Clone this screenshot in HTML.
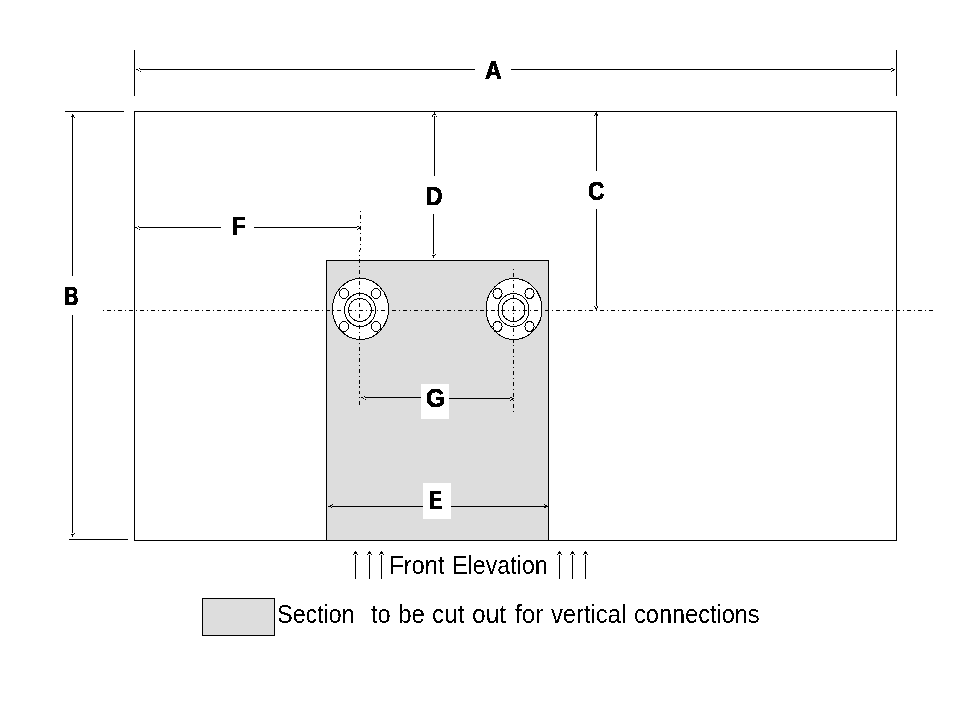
<!DOCTYPE html>
<html><head><meta charset="utf-8"><style>
html,body{margin:0;padding:0;background:#fff;width:960px;height:720px;overflow:hidden}
svg{display:block;will-change:transform}
</style></head><body>
<svg width="960" height="720" viewBox="0 0 960 720" shape-rendering="crispEdges">
<defs><filter id="bin" x="0" y="0" width="100%" height="100%" color-interpolation-filters="sRGB"><feComponentTransfer><feFuncA type="discrete" tableValues="0 1"/></feComponentTransfer></filter></defs>
<rect x="0" y="0" width="960" height="720" fill="#fff"/>
<rect x="326" y="260" width="223" height="281" fill="#000"/>
<rect x="327" y="261" width="221" height="279" fill="#dddddd"/>
<rect x="328" y="262" width="219" height="277" fill="#dddddd"/>
<rect x="134" y="111" width="763" height="1" fill="#000"/>
<rect x="134" y="540" width="763" height="1" fill="#000"/>
<rect x="134" y="111" width="1" height="430" fill="#000"/>
<rect x="896" y="111" width="1" height="430" fill="#000"/>
<rect x="134" y="50" width="1" height="46" fill="#000"/>
<rect x="896" y="50" width="1" height="46" fill="#000"/>
<rect x="140" y="69" width="335" height="1" fill="#000"/>
<rect x="511" y="69" width="380" height="1" fill="#000"/>
<rect x="136" y="69" width="1" height="1" fill="#000"/>
<rect x="137" y="69" width="1" height="1" fill="#000"/>
<rect x="138" y="70" width="1" height="1" fill="#000"/>
<rect x="139" y="68" width="1" height="1" fill="#000"/>
<rect x="140" y="71" width="1" height="1" fill="#000"/>
<rect x="894" y="69" width="1" height="1" fill="#000"/>
<rect x="893" y="69" width="1" height="1" fill="#000"/>
<rect x="893" y="70" width="1" height="1" fill="#000"/>
<rect x="892" y="70" width="1" height="1" fill="#000"/>
<rect x="892" y="68" width="1" height="1" fill="#000"/>
<rect x="891" y="68" width="1" height="1" fill="#000"/>
<rect x="891" y="71" width="1" height="1" fill="#000"/>
<rect x="65" y="111" width="59" height="1" fill="#000"/>
<rect x="69" y="539" width="59" height="1" fill="#000"/>
<rect x="72" y="117" width="1" height="159" fill="#000"/>
<rect x="72" y="315" width="1" height="218" fill="#000"/>
<rect x="72" y="114" width="1" height="1" fill="#000"/>
<rect x="72" y="115" width="1" height="1" fill="#000"/>
<rect x="73" y="115" width="1" height="1" fill="#000"/>
<rect x="71" y="116" width="1" height="1" fill="#000"/>
<rect x="72" y="116" width="1" height="1" fill="#000"/>
<rect x="73" y="116" width="1" height="1" fill="#000"/>
<rect x="74" y="117" width="1" height="1" fill="#000"/>
<rect x="72" y="536" width="1" height="1" fill="#000"/>
<rect x="72" y="535" width="1" height="1" fill="#000"/>
<rect x="71" y="534" width="1" height="1" fill="#000"/>
<rect x="72" y="534" width="1" height="1" fill="#000"/>
<rect x="73" y="534" width="1" height="1" fill="#000"/>
<rect x="74" y="533" width="1" height="1" fill="#000"/>
<rect x="596" y="116" width="1" height="55" fill="#000"/>
<rect x="596" y="209" width="1" height="97" fill="#000"/>
<rect x="596" y="113" width="1" height="1" fill="#000"/>
<rect x="595" y="113" width="1" height="1" fill="#000"/>
<rect x="595" y="114" width="1" height="1" fill="#000"/>
<rect x="596" y="114" width="1" height="1" fill="#000"/>
<rect x="597" y="114" width="1" height="1" fill="#000"/>
<rect x="597" y="115" width="1" height="1" fill="#000"/>
<rect x="596" y="115" width="1" height="1" fill="#000"/>
<rect x="594" y="115" width="1" height="1" fill="#000"/>
<rect x="596" y="112" width="1" height="1" fill="#000"/>
<rect x="596" y="310" width="1" height="1" fill="#000"/>
<rect x="596" y="309" width="1" height="1" fill="#000"/>
<rect x="595" y="308" width="1" height="1" fill="#000"/>
<rect x="596" y="308" width="1" height="1" fill="#000"/>
<rect x="595" y="307" width="1" height="1" fill="#000"/>
<rect x="597" y="307" width="1" height="1" fill="#000"/>
<rect x="597" y="306" width="1" height="1" fill="#000"/>
<rect x="594" y="306" width="1" height="1" fill="#000"/>
<rect x="434" y="116" width="1" height="60" fill="#000"/>
<rect x="433" y="214" width="1" height="40" fill="#000"/>
<rect x="434" y="113" width="1" height="1" fill="#000"/>
<rect x="433" y="114" width="1" height="1" fill="#000"/>
<rect x="434" y="114" width="1" height="1" fill="#000"/>
<rect x="435" y="114" width="1" height="1" fill="#000"/>
<rect x="432" y="115" width="1" height="1" fill="#000"/>
<rect x="432" y="116" width="1" height="1" fill="#000"/>
<rect x="436" y="116" width="1" height="1" fill="#000"/>
<rect x="434" y="112" width="1" height="1" fill="#000"/>
<rect x="433" y="257" width="1" height="1" fill="#000"/>
<rect x="433" y="256" width="1" height="1" fill="#000"/>
<rect x="432" y="255" width="1" height="1" fill="#000"/>
<rect x="433" y="255" width="1" height="1" fill="#000"/>
<rect x="434" y="255" width="1" height="1" fill="#000"/>
<rect x="435" y="254" width="1" height="1" fill="#000"/>
<rect x="139" y="227" width="82" height="1" fill="#000"/>
<rect x="254" y="227" width="103" height="1" fill="#000"/>
<rect x="135" y="227" width="1" height="1" fill="#000"/>
<rect x="136" y="227" width="1" height="1" fill="#000"/>
<rect x="137" y="228" width="1" height="1" fill="#000"/>
<rect x="138" y="226" width="1" height="1" fill="#000"/>
<rect x="139" y="229" width="1" height="1" fill="#000"/>
<rect x="360" y="227" width="1" height="1" fill="#000"/>
<rect x="359" y="227" width="1" height="1" fill="#000"/>
<rect x="359" y="228" width="1" height="1" fill="#000"/>
<rect x="358" y="228" width="1" height="1" fill="#000"/>
<rect x="358" y="226" width="1" height="1" fill="#000"/>
<rect x="357" y="226" width="1" height="1" fill="#000"/>
<rect x="357" y="229" width="1" height="1" fill="#000"/>
<g>
<ellipse cx="360.5" cy="309" rx="28" ry="30.5" fill="#fff" stroke="#000" stroke-width="1"/>
<ellipse cx="360.0" cy="310" rx="15.5" ry="16.5" fill="none" stroke="#000" stroke-width="1"/>
<ellipse cx="360.0" cy="310" rx="11.5" ry="11.5" fill="none" stroke="#000" stroke-width="1"/>
<ellipse cx="344.0" cy="293.5" rx="4.6" ry="5" fill="none" stroke="#000" stroke-width="1"/>
<ellipse cx="376.0" cy="293.5" rx="4.6" ry="5" fill="none" stroke="#000" stroke-width="1"/>
<ellipse cx="344.0" cy="326.5" rx="4.6" ry="5" fill="none" stroke="#000" stroke-width="1"/>
<ellipse cx="376.0" cy="326.5" rx="4.6" ry="5" fill="none" stroke="#000" stroke-width="1"/>
<ellipse cx="514" cy="309" rx="28" ry="30.5" fill="#fff" stroke="#000" stroke-width="1"/>
<ellipse cx="513.5" cy="310" rx="15.5" ry="16.5" fill="none" stroke="#000" stroke-width="1"/>
<ellipse cx="513.5" cy="310" rx="11.5" ry="11.5" fill="none" stroke="#000" stroke-width="1"/>
<ellipse cx="497.5" cy="293.5" rx="4.6" ry="5" fill="none" stroke="#000" stroke-width="1"/>
<ellipse cx="529.5" cy="293.5" rx="4.6" ry="5" fill="none" stroke="#000" stroke-width="1"/>
<ellipse cx="497.5" cy="326.5" rx="4.6" ry="5" fill="none" stroke="#000" stroke-width="1"/>
<ellipse cx="529.5" cy="326.5" rx="4.6" ry="5" fill="none" stroke="#000" stroke-width="1"/>
</g>
<rect x="103" y="310" width="1" height="1" fill="#000"/>
<rect x="107" y="310" width="4" height="1" fill="#000"/>
<rect x="114" y="310" width="1" height="1" fill="#000"/>
<rect x="118" y="310" width="4" height="1" fill="#000"/>
<rect x="125" y="310" width="1" height="1" fill="#000"/>
<rect x="129" y="310" width="4" height="1" fill="#000"/>
<rect x="136" y="310" width="1" height="1" fill="#000"/>
<rect x="140" y="310" width="4" height="1" fill="#000"/>
<rect x="147" y="310" width="1" height="1" fill="#000"/>
<rect x="151" y="310" width="4" height="1" fill="#000"/>
<rect x="158" y="310" width="1" height="1" fill="#000"/>
<rect x="162" y="310" width="4" height="1" fill="#000"/>
<rect x="169" y="310" width="1" height="1" fill="#000"/>
<rect x="173" y="310" width="4" height="1" fill="#000"/>
<rect x="180" y="310" width="1" height="1" fill="#000"/>
<rect x="184" y="310" width="4" height="1" fill="#000"/>
<rect x="191" y="310" width="1" height="1" fill="#000"/>
<rect x="195" y="310" width="4" height="1" fill="#000"/>
<rect x="202" y="310" width="1" height="1" fill="#000"/>
<rect x="206" y="310" width="4" height="1" fill="#000"/>
<rect x="213" y="310" width="1" height="1" fill="#000"/>
<rect x="217" y="310" width="4" height="1" fill="#000"/>
<rect x="224" y="310" width="1" height="1" fill="#000"/>
<rect x="228" y="310" width="4" height="1" fill="#000"/>
<rect x="234" y="310" width="1" height="1" fill="#000"/>
<rect x="238" y="310" width="4" height="1" fill="#000"/>
<rect x="245" y="310" width="1" height="1" fill="#000"/>
<rect x="249" y="310" width="4" height="1" fill="#000"/>
<rect x="256" y="310" width="1" height="1" fill="#000"/>
<rect x="260" y="310" width="4" height="1" fill="#000"/>
<rect x="267" y="310" width="1" height="1" fill="#000"/>
<rect x="271" y="310" width="4" height="1" fill="#000"/>
<rect x="278" y="310" width="1" height="1" fill="#000"/>
<rect x="282" y="310" width="4" height="1" fill="#000"/>
<rect x="289" y="310" width="1" height="1" fill="#000"/>
<rect x="293" y="310" width="4" height="1" fill="#000"/>
<rect x="300" y="310" width="1" height="1" fill="#000"/>
<rect x="304" y="310" width="4" height="1" fill="#000"/>
<rect x="311" y="310" width="1" height="1" fill="#000"/>
<rect x="315" y="310" width="4" height="1" fill="#000"/>
<rect x="322" y="310" width="1" height="1" fill="#000"/>
<rect x="326" y="310" width="4" height="1" fill="#000"/>
<rect x="333" y="310" width="1" height="1" fill="#000"/>
<rect x="337" y="310" width="4" height="1" fill="#000"/>
<rect x="344" y="310" width="1" height="1" fill="#000"/>
<rect x="348" y="310" width="4" height="1" fill="#000"/>
<rect x="355" y="310" width="1" height="1" fill="#000"/>
<rect x="359" y="310" width="4" height="1" fill="#000"/>
<rect x="366" y="310" width="1" height="1" fill="#000"/>
<rect x="370" y="310" width="4" height="1" fill="#000"/>
<rect x="377" y="310" width="1" height="1" fill="#000"/>
<rect x="381" y="310" width="4" height="1" fill="#000"/>
<rect x="388" y="310" width="1" height="1" fill="#000"/>
<rect x="392" y="310" width="4" height="1" fill="#000"/>
<rect x="399" y="310" width="1" height="1" fill="#000"/>
<rect x="403" y="310" width="4" height="1" fill="#000"/>
<rect x="410" y="310" width="1" height="1" fill="#000"/>
<rect x="414" y="310" width="4" height="1" fill="#000"/>
<rect x="421" y="310" width="1" height="1" fill="#000"/>
<rect x="425" y="310" width="4" height="1" fill="#000"/>
<rect x="432" y="310" width="1" height="1" fill="#000"/>
<rect x="436" y="310" width="4" height="1" fill="#000"/>
<rect x="443" y="310" width="1" height="1" fill="#000"/>
<rect x="447" y="310" width="4" height="1" fill="#000"/>
<rect x="454" y="310" width="1" height="1" fill="#000"/>
<rect x="458" y="310" width="4" height="1" fill="#000"/>
<rect x="465" y="310" width="1" height="1" fill="#000"/>
<rect x="469" y="310" width="4" height="1" fill="#000"/>
<rect x="476" y="310" width="1" height="1" fill="#000"/>
<rect x="480" y="310" width="4" height="1" fill="#000"/>
<rect x="487" y="310" width="1" height="1" fill="#000"/>
<rect x="491" y="310" width="4" height="1" fill="#000"/>
<rect x="497" y="310" width="1" height="1" fill="#000"/>
<rect x="501" y="310" width="4" height="1" fill="#000"/>
<rect x="508" y="310" width="1" height="1" fill="#000"/>
<rect x="512" y="310" width="4" height="1" fill="#000"/>
<rect x="519" y="310" width="1" height="1" fill="#000"/>
<rect x="523" y="310" width="4" height="1" fill="#000"/>
<rect x="530" y="310" width="1" height="1" fill="#000"/>
<rect x="534" y="310" width="4" height="1" fill="#000"/>
<rect x="541" y="310" width="1" height="1" fill="#000"/>
<rect x="545" y="310" width="4" height="1" fill="#000"/>
<rect x="552" y="310" width="1" height="1" fill="#000"/>
<rect x="556" y="310" width="4" height="1" fill="#000"/>
<rect x="563" y="310" width="1" height="1" fill="#000"/>
<rect x="567" y="310" width="4" height="1" fill="#000"/>
<rect x="574" y="310" width="1" height="1" fill="#000"/>
<rect x="578" y="310" width="4" height="1" fill="#000"/>
<rect x="585" y="310" width="1" height="1" fill="#000"/>
<rect x="589" y="310" width="4" height="1" fill="#000"/>
<rect x="596" y="310" width="1" height="1" fill="#000"/>
<rect x="600" y="310" width="4" height="1" fill="#000"/>
<rect x="607" y="310" width="1" height="1" fill="#000"/>
<rect x="611" y="310" width="4" height="1" fill="#000"/>
<rect x="618" y="310" width="1" height="1" fill="#000"/>
<rect x="622" y="310" width="4" height="1" fill="#000"/>
<rect x="629" y="310" width="1" height="1" fill="#000"/>
<rect x="633" y="310" width="4" height="1" fill="#000"/>
<rect x="640" y="310" width="1" height="1" fill="#000"/>
<rect x="644" y="310" width="4" height="1" fill="#000"/>
<rect x="651" y="310" width="1" height="1" fill="#000"/>
<rect x="655" y="310" width="4" height="1" fill="#000"/>
<rect x="662" y="310" width="1" height="1" fill="#000"/>
<rect x="666" y="310" width="4" height="1" fill="#000"/>
<rect x="673" y="310" width="1" height="1" fill="#000"/>
<rect x="677" y="310" width="4" height="1" fill="#000"/>
<rect x="684" y="310" width="1" height="1" fill="#000"/>
<rect x="688" y="310" width="4" height="1" fill="#000"/>
<rect x="695" y="310" width="1" height="1" fill="#000"/>
<rect x="699" y="310" width="4" height="1" fill="#000"/>
<rect x="706" y="310" width="1" height="1" fill="#000"/>
<rect x="710" y="310" width="4" height="1" fill="#000"/>
<rect x="717" y="310" width="1" height="1" fill="#000"/>
<rect x="721" y="310" width="4" height="1" fill="#000"/>
<rect x="728" y="310" width="1" height="1" fill="#000"/>
<rect x="732" y="310" width="4" height="1" fill="#000"/>
<rect x="739" y="310" width="1" height="1" fill="#000"/>
<rect x="743" y="310" width="4" height="1" fill="#000"/>
<rect x="750" y="310" width="1" height="1" fill="#000"/>
<rect x="754" y="310" width="4" height="1" fill="#000"/>
<rect x="760" y="310" width="1" height="1" fill="#000"/>
<rect x="764" y="310" width="4" height="1" fill="#000"/>
<rect x="771" y="310" width="1" height="1" fill="#000"/>
<rect x="775" y="310" width="4" height="1" fill="#000"/>
<rect x="782" y="310" width="1" height="1" fill="#000"/>
<rect x="786" y="310" width="4" height="1" fill="#000"/>
<rect x="793" y="310" width="1" height="1" fill="#000"/>
<rect x="797" y="310" width="4" height="1" fill="#000"/>
<rect x="804" y="310" width="1" height="1" fill="#000"/>
<rect x="808" y="310" width="4" height="1" fill="#000"/>
<rect x="815" y="310" width="1" height="1" fill="#000"/>
<rect x="819" y="310" width="4" height="1" fill="#000"/>
<rect x="826" y="310" width="1" height="1" fill="#000"/>
<rect x="830" y="310" width="4" height="1" fill="#000"/>
<rect x="837" y="310" width="1" height="1" fill="#000"/>
<rect x="841" y="310" width="4" height="1" fill="#000"/>
<rect x="848" y="310" width="1" height="1" fill="#000"/>
<rect x="852" y="310" width="4" height="1" fill="#000"/>
<rect x="859" y="310" width="1" height="1" fill="#000"/>
<rect x="863" y="310" width="4" height="1" fill="#000"/>
<rect x="870" y="310" width="1" height="1" fill="#000"/>
<rect x="874" y="310" width="4" height="1" fill="#000"/>
<rect x="881" y="310" width="1" height="1" fill="#000"/>
<rect x="885" y="310" width="4" height="1" fill="#000"/>
<rect x="892" y="310" width="1" height="1" fill="#000"/>
<rect x="896" y="310" width="4" height="1" fill="#000"/>
<rect x="903" y="310" width="1" height="1" fill="#000"/>
<rect x="907" y="310" width="4" height="1" fill="#000"/>
<rect x="914" y="310" width="1" height="1" fill="#000"/>
<rect x="918" y="310" width="4" height="1" fill="#000"/>
<rect x="925" y="310" width="1" height="1" fill="#000"/>
<rect x="929" y="310" width="4" height="1" fill="#000"/>
<rect x="360" y="211" width="1" height="1" fill="#000"/>
<rect x="360" y="215" width="1" height="1" fill="#000"/>
<rect x="360" y="216" width="1" height="1" fill="#000"/>
<rect x="360" y="217" width="1" height="1" fill="#000"/>
<rect x="360" y="218" width="1" height="1" fill="#000"/>
<rect x="360" y="222" width="1" height="1" fill="#000"/>
<rect x="360" y="226" width="1" height="1" fill="#000"/>
<rect x="360" y="227" width="1" height="1" fill="#000"/>
<rect x="360" y="228" width="1" height="1" fill="#000"/>
<rect x="360" y="229" width="1" height="1" fill="#000"/>
<rect x="360" y="233" width="1" height="1" fill="#000"/>
<rect x="360" y="237" width="1" height="1" fill="#000"/>
<rect x="360" y="238" width="1" height="1" fill="#000"/>
<rect x="360" y="239" width="1" height="1" fill="#000"/>
<rect x="360" y="240" width="1" height="1" fill="#000"/>
<rect x="360" y="244" width="1" height="1" fill="#000"/>
<rect x="360" y="248" width="1" height="1" fill="#000"/>
<rect x="360" y="249" width="1" height="1" fill="#000"/>
<rect x="359" y="250" width="1" height="1" fill="#000"/>
<rect x="359" y="251" width="1" height="1" fill="#000"/>
<rect x="359" y="255" width="1" height="1" fill="#000"/>
<rect x="359" y="259" width="1" height="1" fill="#000"/>
<rect x="359" y="260" width="1" height="1" fill="#000"/>
<rect x="359" y="261" width="1" height="1" fill="#000"/>
<rect x="359" y="262" width="1" height="1" fill="#000"/>
<rect x="359" y="266" width="1" height="1" fill="#000"/>
<rect x="359" y="270" width="1" height="1" fill="#000"/>
<rect x="359" y="271" width="1" height="1" fill="#000"/>
<rect x="359" y="272" width="1" height="1" fill="#000"/>
<rect x="359" y="273" width="1" height="1" fill="#000"/>
<rect x="359" y="277" width="1" height="1" fill="#000"/>
<rect x="359" y="281" width="1" height="1" fill="#000"/>
<rect x="359" y="282" width="1" height="1" fill="#000"/>
<rect x="359" y="283" width="1" height="1" fill="#000"/>
<rect x="359" y="284" width="1" height="1" fill="#000"/>
<rect x="359" y="288" width="1" height="1" fill="#000"/>
<rect x="359" y="292" width="1" height="1" fill="#000"/>
<rect x="359" y="293" width="1" height="1" fill="#000"/>
<rect x="359" y="294" width="1" height="1" fill="#000"/>
<rect x="359" y="295" width="1" height="1" fill="#000"/>
<rect x="359" y="299" width="1" height="1" fill="#000"/>
<rect x="359" y="303" width="1" height="1" fill="#000"/>
<rect x="359" y="304" width="1" height="1" fill="#000"/>
<rect x="359" y="305" width="1" height="1" fill="#000"/>
<rect x="359" y="306" width="1" height="1" fill="#000"/>
<rect x="359" y="310" width="1" height="1" fill="#000"/>
<rect x="359" y="314" width="1" height="1" fill="#000"/>
<rect x="359" y="315" width="1" height="1" fill="#000"/>
<rect x="359" y="316" width="1" height="1" fill="#000"/>
<rect x="359" y="317" width="1" height="1" fill="#000"/>
<rect x="359" y="321" width="1" height="1" fill="#000"/>
<rect x="359" y="325" width="1" height="1" fill="#000"/>
<rect x="359" y="326" width="1" height="1" fill="#000"/>
<rect x="359" y="327" width="1" height="1" fill="#000"/>
<rect x="359" y="328" width="1" height="1" fill="#000"/>
<rect x="359" y="332" width="1" height="1" fill="#000"/>
<rect x="359" y="336" width="1" height="1" fill="#000"/>
<rect x="359" y="337" width="1" height="1" fill="#000"/>
<rect x="359" y="338" width="1" height="1" fill="#000"/>
<rect x="359" y="339" width="1" height="1" fill="#000"/>
<rect x="359" y="343" width="1" height="1" fill="#000"/>
<rect x="359" y="347" width="1" height="1" fill="#000"/>
<rect x="359" y="348" width="1" height="1" fill="#000"/>
<rect x="359" y="349" width="1" height="1" fill="#000"/>
<rect x="359" y="350" width="1" height="1" fill="#000"/>
<rect x="359" y="354" width="1" height="1" fill="#000"/>
<rect x="359" y="358" width="1" height="1" fill="#000"/>
<rect x="359" y="359" width="1" height="1" fill="#000"/>
<rect x="359" y="360" width="1" height="1" fill="#000"/>
<rect x="359" y="361" width="1" height="1" fill="#000"/>
<rect x="359" y="365" width="1" height="1" fill="#000"/>
<rect x="359" y="369" width="1" height="1" fill="#000"/>
<rect x="359" y="370" width="1" height="1" fill="#000"/>
<rect x="359" y="371" width="1" height="1" fill="#000"/>
<rect x="359" y="372" width="1" height="1" fill="#000"/>
<rect x="359" y="376" width="1" height="1" fill="#000"/>
<rect x="359" y="380" width="1" height="1" fill="#000"/>
<rect x="359" y="381" width="1" height="1" fill="#000"/>
<rect x="359" y="382" width="1" height="1" fill="#000"/>
<rect x="359" y="383" width="1" height="1" fill="#000"/>
<rect x="359" y="386" width="1" height="1" fill="#000"/>
<rect x="359" y="387" width="1" height="1" fill="#000"/>
<rect x="359" y="391" width="1" height="1" fill="#000"/>
<rect x="359" y="392" width="1" height="1" fill="#000"/>
<rect x="359" y="393" width="1" height="1" fill="#000"/>
<rect x="359" y="397" width="1" height="1" fill="#000"/>
<rect x="359" y="401" width="1" height="1" fill="#000"/>
<rect x="359" y="402" width="1" height="1" fill="#000"/>
<rect x="359" y="403" width="1" height="1" fill="#000"/>
<rect x="359" y="404" width="1" height="1" fill="#000"/>
<rect x="513" y="269" width="1" height="1" fill="#000"/>
<rect x="513" y="273" width="1" height="1" fill="#000"/>
<rect x="513" y="274" width="1" height="1" fill="#000"/>
<rect x="513" y="275" width="1" height="1" fill="#000"/>
<rect x="513" y="276" width="1" height="1" fill="#000"/>
<rect x="513" y="280" width="1" height="1" fill="#000"/>
<rect x="513" y="284" width="1" height="1" fill="#000"/>
<rect x="513" y="285" width="1" height="1" fill="#000"/>
<rect x="513" y="286" width="1" height="1" fill="#000"/>
<rect x="513" y="287" width="1" height="1" fill="#000"/>
<rect x="513" y="291" width="1" height="1" fill="#000"/>
<rect x="513" y="295" width="1" height="1" fill="#000"/>
<rect x="513" y="296" width="1" height="1" fill="#000"/>
<rect x="513" y="297" width="1" height="1" fill="#000"/>
<rect x="513" y="298" width="1" height="1" fill="#000"/>
<rect x="513" y="302" width="1" height="1" fill="#000"/>
<rect x="513" y="306" width="1" height="1" fill="#000"/>
<rect x="513" y="307" width="1" height="1" fill="#000"/>
<rect x="513" y="308" width="1" height="1" fill="#000"/>
<rect x="513" y="309" width="1" height="1" fill="#000"/>
<rect x="513" y="313" width="1" height="1" fill="#000"/>
<rect x="513" y="317" width="1" height="1" fill="#000"/>
<rect x="513" y="318" width="1" height="1" fill="#000"/>
<rect x="513" y="319" width="1" height="1" fill="#000"/>
<rect x="513" y="320" width="1" height="1" fill="#000"/>
<rect x="513" y="324" width="1" height="1" fill="#000"/>
<rect x="513" y="328" width="1" height="1" fill="#000"/>
<rect x="513" y="329" width="1" height="1" fill="#000"/>
<rect x="513" y="330" width="1" height="1" fill="#000"/>
<rect x="513" y="331" width="1" height="1" fill="#000"/>
<rect x="513" y="335" width="1" height="1" fill="#000"/>
<rect x="513" y="339" width="1" height="1" fill="#000"/>
<rect x="513" y="340" width="1" height="1" fill="#000"/>
<rect x="513" y="341" width="1" height="1" fill="#000"/>
<rect x="513" y="342" width="1" height="1" fill="#000"/>
<rect x="513" y="345" width="1" height="1" fill="#000"/>
<rect x="513" y="349" width="1" height="1" fill="#000"/>
<rect x="513" y="350" width="1" height="1" fill="#000"/>
<rect x="513" y="351" width="1" height="1" fill="#000"/>
<rect x="513" y="352" width="1" height="1" fill="#000"/>
<rect x="513" y="356" width="1" height="1" fill="#000"/>
<rect x="513" y="360" width="1" height="1" fill="#000"/>
<rect x="513" y="361" width="1" height="1" fill="#000"/>
<rect x="513" y="362" width="1" height="1" fill="#000"/>
<rect x="513" y="363" width="1" height="1" fill="#000"/>
<rect x="513" y="367" width="1" height="1" fill="#000"/>
<rect x="513" y="371" width="1" height="1" fill="#000"/>
<rect x="513" y="372" width="1" height="1" fill="#000"/>
<rect x="513" y="373" width="1" height="1" fill="#000"/>
<rect x="513" y="374" width="1" height="1" fill="#000"/>
<rect x="513" y="378" width="1" height="1" fill="#000"/>
<rect x="513" y="382" width="1" height="1" fill="#000"/>
<rect x="513" y="383" width="1" height="1" fill="#000"/>
<rect x="513" y="384" width="1" height="1" fill="#000"/>
<rect x="513" y="385" width="1" height="1" fill="#000"/>
<rect x="513" y="389" width="1" height="1" fill="#000"/>
<rect x="513" y="393" width="1" height="1" fill="#000"/>
<rect x="513" y="394" width="1" height="1" fill="#000"/>
<rect x="513" y="395" width="1" height="1" fill="#000"/>
<rect x="513" y="396" width="1" height="1" fill="#000"/>
<rect x="513" y="400" width="1" height="1" fill="#000"/>
<rect x="513" y="404" width="1" height="1" fill="#000"/>
<rect x="513" y="405" width="1" height="1" fill="#000"/>
<rect x="513" y="406" width="1" height="1" fill="#000"/>
<rect x="513" y="407" width="1" height="1" fill="#000"/>
<rect x="513" y="411" width="1" height="1" fill="#000"/>
<rect x="365" y="397" width="56" height="1" fill="#000"/>
<rect x="449" y="398" width="61" height="1" fill="#000"/>
<rect x="361" y="397" width="1" height="1" fill="#000"/>
<rect x="362" y="397" width="1" height="1" fill="#000"/>
<rect x="363" y="398" width="1" height="1" fill="#000"/>
<rect x="364" y="396" width="1" height="1" fill="#000"/>
<rect x="365" y="399" width="1" height="1" fill="#000"/>
<rect x="513" y="398" width="1" height="1" fill="#000"/>
<rect x="512" y="398" width="1" height="1" fill="#000"/>
<rect x="512" y="399" width="1" height="1" fill="#000"/>
<rect x="511" y="399" width="1" height="1" fill="#000"/>
<rect x="511" y="397" width="1" height="1" fill="#000"/>
<rect x="510" y="397" width="1" height="1" fill="#000"/>
<rect x="510" y="400" width="1" height="1" fill="#000"/>
<rect x="421" y="384" width="28" height="35" fill="#fff"/>
<rect x="332" y="506" width="91" height="1" fill="#000"/>
<rect x="451" y="506" width="93" height="1" fill="#000"/>
<rect x="328" y="506" width="1" height="1" fill="#000"/>
<rect x="329" y="506" width="1" height="1" fill="#000"/>
<rect x="330" y="506" width="1" height="1" fill="#000"/>
<rect x="330" y="505" width="1" height="1" fill="#000"/>
<rect x="331" y="505" width="1" height="1" fill="#000"/>
<rect x="332" y="504" width="1" height="1" fill="#000"/>
<rect x="331" y="507" width="1" height="1" fill="#000"/>
<rect x="547" y="506" width="1" height="1" fill="#000"/>
<rect x="546" y="506" width="1" height="1" fill="#000"/>
<rect x="546" y="505" width="1" height="1" fill="#000"/>
<rect x="545" y="505" width="1" height="1" fill="#000"/>
<rect x="544" y="504" width="1" height="1" fill="#000"/>
<rect x="545" y="506" width="1" height="1" fill="#000"/>
<rect x="544" y="506" width="1" height="1" fill="#000"/>
<rect x="544" y="507" width="1" height="1" fill="#000"/>
<rect x="545" y="507" width="1" height="1" fill="#000"/>
<rect x="423" y="483" width="28" height="36" fill="#fff"/>
<rect x="355" y="555" width="1" height="24" fill="#000"/>
<rect x="355" y="551" width="1" height="1" fill="#000"/>
<rect x="354" y="552" width="1" height="1" fill="#000"/>
<rect x="355" y="552" width="1" height="1" fill="#000"/>
<rect x="356" y="552" width="1" height="1" fill="#000"/>
<rect x="354" y="553" width="1" height="1" fill="#000"/>
<rect x="355" y="553" width="1" height="1" fill="#000"/>
<rect x="356" y="553" width="1" height="1" fill="#000"/>
<rect x="353" y="554" width="1" height="1" fill="#000"/>
<rect x="357" y="554" width="1" height="1" fill="#000"/>
<rect x="369" y="555" width="1" height="24" fill="#000"/>
<rect x="369" y="551" width="1" height="1" fill="#000"/>
<rect x="368" y="552" width="1" height="1" fill="#000"/>
<rect x="369" y="552" width="1" height="1" fill="#000"/>
<rect x="370" y="552" width="1" height="1" fill="#000"/>
<rect x="368" y="553" width="1" height="1" fill="#000"/>
<rect x="369" y="553" width="1" height="1" fill="#000"/>
<rect x="370" y="553" width="1" height="1" fill="#000"/>
<rect x="367" y="554" width="1" height="1" fill="#000"/>
<rect x="371" y="554" width="1" height="1" fill="#000"/>
<rect x="381" y="555" width="1" height="24" fill="#000"/>
<rect x="381" y="551" width="1" height="1" fill="#000"/>
<rect x="380" y="552" width="1" height="1" fill="#000"/>
<rect x="381" y="552" width="1" height="1" fill="#000"/>
<rect x="382" y="552" width="1" height="1" fill="#000"/>
<rect x="380" y="553" width="1" height="1" fill="#000"/>
<rect x="381" y="553" width="1" height="1" fill="#000"/>
<rect x="382" y="553" width="1" height="1" fill="#000"/>
<rect x="379" y="554" width="1" height="1" fill="#000"/>
<rect x="383" y="554" width="1" height="1" fill="#000"/>
<rect x="559" y="555" width="1" height="24" fill="#000"/>
<rect x="559" y="551" width="1" height="1" fill="#000"/>
<rect x="558" y="552" width="1" height="1" fill="#000"/>
<rect x="559" y="552" width="1" height="1" fill="#000"/>
<rect x="560" y="552" width="1" height="1" fill="#000"/>
<rect x="558" y="553" width="1" height="1" fill="#000"/>
<rect x="559" y="553" width="1" height="1" fill="#000"/>
<rect x="560" y="553" width="1" height="1" fill="#000"/>
<rect x="557" y="554" width="1" height="1" fill="#000"/>
<rect x="561" y="554" width="1" height="1" fill="#000"/>
<rect x="572" y="555" width="1" height="24" fill="#000"/>
<rect x="572" y="551" width="1" height="1" fill="#000"/>
<rect x="571" y="552" width="1" height="1" fill="#000"/>
<rect x="572" y="552" width="1" height="1" fill="#000"/>
<rect x="573" y="552" width="1" height="1" fill="#000"/>
<rect x="571" y="553" width="1" height="1" fill="#000"/>
<rect x="572" y="553" width="1" height="1" fill="#000"/>
<rect x="573" y="553" width="1" height="1" fill="#000"/>
<rect x="570" y="554" width="1" height="1" fill="#000"/>
<rect x="574" y="554" width="1" height="1" fill="#000"/>
<rect x="585" y="555" width="1" height="24" fill="#000"/>
<rect x="585" y="551" width="1" height="1" fill="#000"/>
<rect x="584" y="552" width="1" height="1" fill="#000"/>
<rect x="585" y="552" width="1" height="1" fill="#000"/>
<rect x="586" y="552" width="1" height="1" fill="#000"/>
<rect x="584" y="553" width="1" height="1" fill="#000"/>
<rect x="585" y="553" width="1" height="1" fill="#000"/>
<rect x="586" y="553" width="1" height="1" fill="#000"/>
<rect x="583" y="554" width="1" height="1" fill="#000"/>
<rect x="587" y="554" width="1" height="1" fill="#000"/>
<rect x="202" y="598" width="73" height="38" fill="#000"/>
<rect x="203" y="599" width="71" height="36" fill="#dddddd"/>
<rect x="204" y="600" width="69" height="34" fill="#dddddd"/>
<g filter="url(#bin)">
<text transform="translate(485.00,79) scale(0.8889,1)" style='font-family:"Liberation Sans",sans-serif;font-weight:bold;font-size:26px;stroke:#000;stroke-width:0.7px'>A</text>
<text transform="translate(64.24,305) scale(0.7647,1)" style='font-family:"Liberation Sans",sans-serif;font-weight:bold;font-size:26px;stroke:#000;stroke-width:0.7px'>B</text>
<text transform="translate(588.12,200) scale(0.8824,1)" style='font-family:"Liberation Sans",sans-serif;font-weight:bold;font-size:26px;stroke:#000;stroke-width:0.7px'>C</text>
<text transform="translate(426.12,205) scale(0.8824,1)" style='font-family:"Liberation Sans",sans-serif;font-weight:bold;font-size:26px;stroke:#000;stroke-width:0.7px'>D</text>
<text transform="translate(232.14,235) scale(0.8571,1)" style='font-family:"Liberation Sans",sans-serif;font-weight:bold;font-size:26px;stroke:#000;stroke-width:0.7px'>F</text>
<text transform="translate(426.06,407) scale(0.9444,1)" style='font-family:"Liberation Sans",sans-serif;font-weight:bold;font-size:26px;stroke:#000;stroke-width:0.7px'>G</text>
<text transform="translate(429.25,509) scale(0.7500,1)" style='font-family:"Liberation Sans",sans-serif;font-weight:bold;font-size:26px;stroke:#000;stroke-width:0.7px'>E</text>
<text transform="translate(389.17,574) scale(0.9138,1)" style='font-family:"Liberation Sans",sans-serif;font-size:26px'>Front</text>
<text transform="translate(452.21,574) scale(0.8932,1)" style='font-family:"Liberation Sans",sans-serif;font-size:26px'>Elevation</text>
<text transform="translate(277.22,623) scale(0.8916,1)" style='font-family:"Liberation Sans",sans-serif;font-size:26px'>Section</text>
<text transform="translate(371.00,623) scale(0.9048,1)" style='font-family:"Liberation Sans",sans-serif;font-size:26px'>to</text>
<text transform="translate(398.15,623) scale(0.9231,1)" style='font-family:"Liberation Sans",sans-serif;font-size:26px'>be</text>
<text transform="translate(432.06,623) scale(0.9394,1)" style='font-family:"Liberation Sans",sans-serif;font-size:26px'>cut</text>
<text transform="translate(472.06,623) scale(0.9429,1)" style='font-family:"Liberation Sans",sans-serif;font-size:26px'>out</text>
<text transform="translate(515.00,623) scale(0.9333,1)" style='font-family:"Liberation Sans",sans-serif;font-size:26px'>for</text>
<text transform="translate(551.00,623) scale(0.9136,1)" style='font-family:"Liberation Sans",sans-serif;font-size:26px'>vertical</text>
<text transform="translate(634.09,623) scale(0.9051,1)" style='font-family:"Liberation Sans",sans-serif;font-size:26px'>connections</text>
</g>
</svg>
</body></html>
